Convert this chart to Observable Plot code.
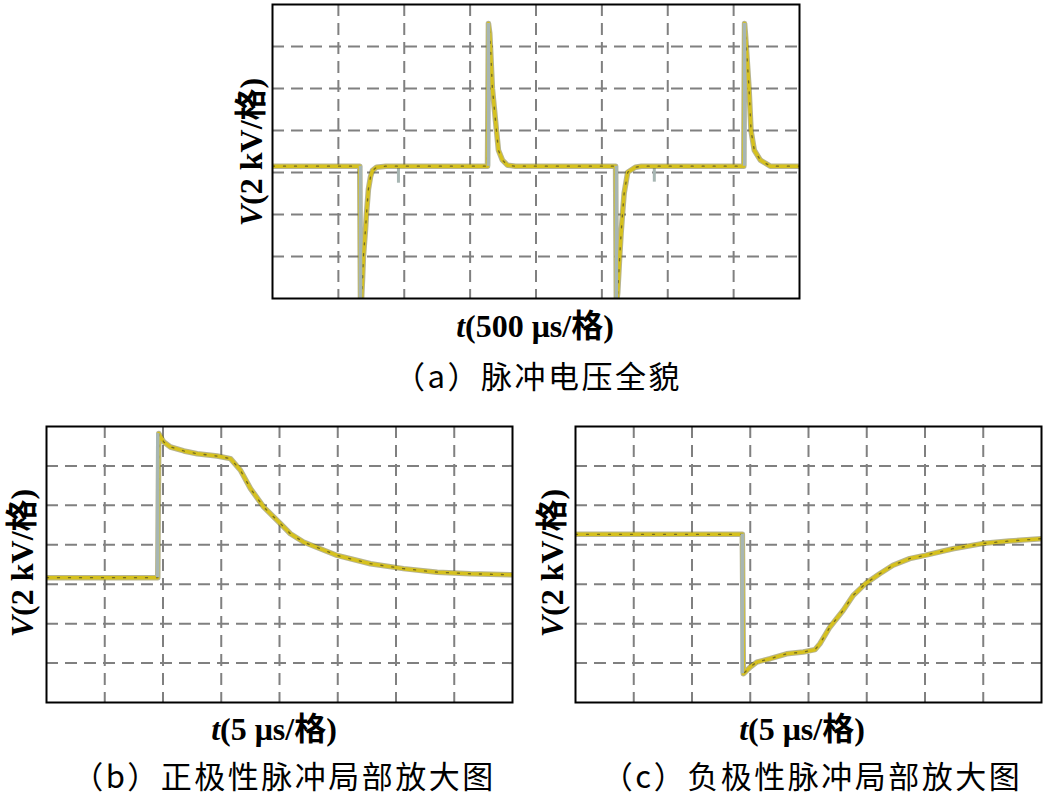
<!DOCTYPE html>
<html>
<head>
<meta charset="utf-8">
<script src="https://cdn.jsdelivr.net/npm/d3@7"></script>
<script src="https://cdn.jsdelivr.net/npm/@observablehq/plot@0.6"></script>
<style>
  html, body { margin: 0; padding: 0; background: #fff; overflow: hidden; }
  #root { position: relative; width: 1043px; height: 797px; background: #fff; }
  .panel { position: absolute; }
  .lbl { position: absolute; white-space: nowrap; transform: translate(-50%, -50%);
         font-family: "Liberation Serif", "Noto Sans CJK SC", serif; font-size: 32px; font-weight: bold; color: #000; line-height: 1.1; }
  .lbl i { font-style: italic; }
  .ylbl { transform: translate(-50%, -50%) rotate(-90deg); }
  .cap { position: absolute; white-space: nowrap; transform: translate(-50%, -50%);
         font-family: "Noto Sans CJK SC", sans-serif; font-size: 31px; color: #000; line-height: 1.15; letter-spacing: 2.5px; }
</style>
</head>
<body>
<div id="root"></div>
<script>
// ---------- data (t in µs, V in kV relative to the trace baseline) ----------
// (a) full view, 500 µs/div
const aTime = [0, 662, 668, 676, 683, 690, 706, 713, 728, 744, 759, 790, 860,
               1632, 1639, 1649, 1654, 1669, 1700, 1715, 1745, 1783, 1844,
               2604, 2610, 2620, 2635, 2646, 2656, 2669, 2696, 2754, 2800,
               3577, 3583, 3589, 3596, 3617, 3632, 3657, 3703, 3778, 4000];
const aVolt = [0, 0, -6.6, -6.3, -5.4, -4.3, -3.0, -2.3, -1.1, -0.5, -0.2, -0.05, 0,
               0, 6.8, 6.33, 5.7, 3.7, 1.7, 0.76, 0.29, 0.05, 0,
               0, -6.6, -6.05, -4.33, -3.19, -2.33, -1.29, -0.29, -0.05, 0,
               0, 6.8, 6.33, 5.7, 3.7, 1.7, 0.76, 0.29, 0, 0];
const aEdgeTime = [668, 1639, 2610, 3583];
const aEdgeTo   = [-6.6, 6.8, -6.6, 6.8];
const aSpikeTime = [956, 2898];
const aSpikeTo   = [-0.81, -0.76];

// (b) positive pulse, 5 µs/div
const bTime = [0, 9.55, 9.64, 10.07, 10.64, 11.79, 12.94, 14.65, 15.79, 16.65, 17.51,
               18.65, 20.09, 20.94, 22.06, 24.95, 27.81, 30.64, 33.54, 36.39, 40];
const bVolt = [0, 0, 7.31, 6.88, 6.63, 6.43, 6.29, 6.17, 6.04, 5.45, 4.52,
               3.58, 2.74, 2.23, 1.81, 1.13, 0.71, 0.46, 0.28, 0.20, 0.15];
const bEdgeTime = [9.55];
const bEdgeTo   = [7.31];

// (c) negative pulse, 5 µs/div
const cTime = [0, 14.32, 14.41, 14.98, 15.56, 16.70, 18.12, 19.55, 20.55, 20.98, 21.83,
               22.97, 23.83, 24.89, 26.11, 27.25, 28.68, 29.97, 32.39, 34.91, 37.24, 40];
const cVolt = [0, 0, -7.07, -6.74, -6.48, -6.31, -6.06, -5.97, -5.85, -5.55, -4.71,
               -3.86, -3.10, -2.50, -2.00, -1.57, -1.23, -1.07, -0.73, -0.47, -0.34, -0.22];
const cEdgeTime = [14.32];
const cEdgeTo   = [-7.07];

// screen: 8 horizontal divisions, 7 vertical divisions of 2 kV
const aXDomain = [0, 4000], aYDomain = [-6.3, 7.7];
const bXDomain = [0, 40],   bYDomain = [-6.33, 7.67];
const cXDomain = [0, 40],   cYDomain = [-8.53, 5.47];

const yLabel = '<i>V</i>(2 kV/格)';
const texts = [
  {html: yLabel, cls: "lbl ylbl", x: 252, y: 152},
  {html: yLabel, cls: "lbl ylbl", x: 23, y: 563},
  {html: yLabel, cls: "lbl ylbl", x: 553, y: 563},
  {html: '<i>t</i>(500 μs/格)', cls: "lbl", x: 535, y: 327},
  {html: '（a）脉冲电压全貌', cls: "cap", x: 538, y: 375},
  {html: '<i>t</i>(5 μs/格)', cls: "lbl", x: 274, y: 730},
  {html: '（b）正极性脉冲局部放大图', cls: "cap", x: 284, y: 775},
  {html: '<i>t</i>(5 μs/格)', cls: "lbl", x: 802, y: 730},
  {html: '（c）负极性脉冲局部放大图', cls: "cap", x: 812, y: 775}
];

// ---------- drawing ----------
const root = document.getElementById("root");
const YELLOW = "#d6c11e", EDGE = "#a7b6b3", GRID = "#808080";

function panel({times, volts, edgeTime, edgeTo, spikeTime = [], spikeTo = [], xDomain, yDomain, left, top, w, h}) {
  const trace = times.map((t, i) => ({t, v: volts[i]}));
  const edges = edgeTime.map((t, i) => ({t, to: edgeTo[i]}));
  const spikes = spikeTime.map((t, i) => ({t, to: spikeTo[i]}));
  const xStep = (xDomain[1] - xDomain[0]) / 8;
  const xTicks = d3.range(1, 8).map(i => xDomain[0] + i * xStep);
  const yTicks = d3.range(1, 7).map(i => yDomain[0] + i * 2);
  const m = 2;
  const chart = Plot.plot({
    width: w + 2 * m, height: h + 2 * m,
    marginLeft: m, marginRight: m, marginTop: m, marginBottom: m,
    x: {domain: xDomain, axis: null},
    y: {domain: yDomain, axis: null},
    style: {background: "transparent", overflow: "visible"},
    marks: [
      Plot.gridX(xTicks, {stroke: GRID, strokeOpacity: 1, strokeWidth: 2, strokeDasharray: "12,7"}),
      Plot.gridY(yTicks, {stroke: GRID, strokeOpacity: 1, strokeWidth: 2, strokeDasharray: "12,7"}),
      Plot.ruleX(spikes, {x: "t", y1: 0, y2: "to", stroke: EDGE, strokeWidth: 3}),
      Plot.line(trace, {x: "t", y: "v", stroke: "#6f6a22", strokeWidth: 5.5, strokeOpacity: 0.5, clip: true}),
      Plot.line(trace, {x: "t", y: "v", stroke: YELLOW, strokeWidth: 3.5, clip: true}),
      Plot.line(trace, {x: "t", y: "v", stroke: "#222", strokeWidth: 1.3, strokeOpacity: 0.55, strokeDasharray: "2,9", clip: true}),
      Plot.ruleX(edges, {x: "t", y1: 0, y2: "to", stroke: EDGE, strokeWidth: 3.5, clip: true}),
      Plot.frame({stroke: "#000", strokeWidth: 2})
    ]
  });
  chart.classList.add("panel");
  chart.style.left = (left - m) + "px";
  chart.style.top = (top - m) + "px";
  root.appendChild(chart);
}

panel({times: aTime, volts: aVolt, edgeTime: aEdgeTime, edgeTo: aEdgeTo, spikeTime: aSpikeTime, spikeTo: aSpikeTo,
       xDomain: aXDomain, yDomain: aYDomain, left: 272, top: 4, w: 527, h: 294});
panel({times: bTime, volts: bVolt, edgeTime: bEdgeTime, edgeTo: bEdgeTo,
       xDomain: bXDomain, yDomain: bYDomain, left: 46, top: 426, w: 466, h: 276});
panel({times: cTime, volts: cVolt, edgeTime: cEdgeTime, edgeTo: cEdgeTo,
       xDomain: cXDomain, yDomain: cYDomain, left: 575, top: 426, w: 466, h: 276});

for (const t of texts) {
  const d = document.createElement("div");
  d.className = t.cls;
  d.innerHTML = t.html;
  d.style.left = t.x + "px";
  d.style.top = t.y + "px";
  root.appendChild(d);
}
</script>
</body>
</html>
